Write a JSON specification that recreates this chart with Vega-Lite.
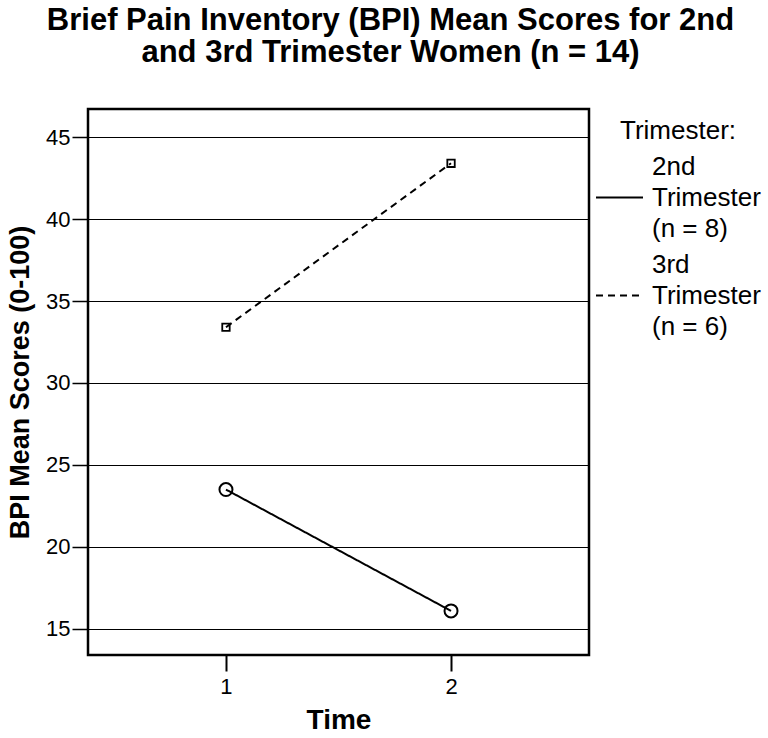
{
  "$schema": "https://vega.github.io/schema/vega-lite/v6.json",
  "autosize": "none",
  "width": 501,
  "height": 546,
  "padding": {"left": 88, "top": 109, "right": 179, "bottom": 83},
  "background": "white",
  "title": {
    "text": ["Brief Pain Inventory (BPI) Mean Scores for 2nd", "and 3rd Trimester Women (n = 14)"],
    "fontSize": 31,
    "fontWeight": "bold",
    "font": "Liberation Sans",
    "color": "black",
    "lineHeight": 32,
    "anchor": "middle",
    "frame": "group",
    "baseline": "bottom",
    "dx": 52,
    "offset": 9
  },
  "config": {
    "font": "Liberation Sans",
    "view": {"stroke": "black", "strokeWidth": 2.5},
    "axis": {
      "domain": false,
      "labelColor": "black",
      "titleColor": "black",
      "tickColor": "black",
      "labelFontSize": 22,
      "titleFontSize": 27,
      "titleFontWeight": "bold",
      "labelFont": "Liberation Sans",
      "titleFont": "Liberation Sans"
    }
  },
  "data": {
    "values": [
      {"time": 1, "score": 23.5, "tri": "2nd Trimester (n = 8)"},
      {"time": 2, "score": 16.1, "tri": "2nd Trimester (n = 8)"},
      {"time": 1, "score": 33.4, "tri": "3rd Trimester (n = 6)"},
      {"time": 2, "score": 43.4, "tri": "3rd Trimester (n = 6)"}
    ]
  },
  "encoding": {
    "x": {
      "field": "time",
      "type": "quantitative",
      "scale": {"domain": [0.387, 2.613], "nice": false, "zero": false},
      "axis": {
        "title": "Time",
        "titleFontSize": 28,
        "values": [1, 2],
        "format": "d",
        "grid": false,
        "tickSize": 16,
        "tickWidth": 2,
        "labelPadding": 5,
        "titlePadding": 9
      }
    },
    "y": {
      "field": "score",
      "type": "quantitative",
      "scale": {"domain": [13.41, 46.71], "nice": false, "zero": false},
      "axis": {
        "title": "BPI Mean Scores (0-100)",
        "values": [15, 20, 25, 30, 35, 40, 45],
        "grid": true,
        "gridColor": "black",
        "gridOpacity": 1,
        "gridWidth": 1.2,
        "tickSize": 16,
        "tickWidth": 1.5,
        "labelPadding": 2,
        "titlePadding": 11
      }
    }
  },
  "layer": [
    {
      "mark": {"type": "line", "color": "black", "strokeWidth": 2},
      "encoding": {
        "strokeDash": {
          "field": "tri",
          "type": "nominal",
          "scale": {"domain": ["2nd Trimester (n = 8)", "3rd Trimester (n = 6)"], "range": [[1, 0], [7, 5]]},
          "legend": {
            "title": "Trimester:",
            "orient": "none",
            "legendX": 507,
            "legendY": 9,
            "padding": 0,
            "titleAnchor": "middle",
            "titleFontSize": 26,
            "titleFontWeight": "normal",
            "titleColor": "black",
            "titleFont": "Liberation Sans",
            "titlePadding": 29,
            "labelFontSize": 26,
            "labelColor": "black",
            "labelFont": "Liberation Sans",
            "labelOffset": 8,
            "labelLimit": 300,
            "labelExpr": "datum.value == '2nd Trimester (n = 8)' ? ['2nd', 'Trimester', '(n = 8)'] : ['3rd', 'Trimester', '(n = 6)']",
            "symbolType": "stroke",
            "symbolSize": 2209,
            "symbolStrokeWidth": 2,
            "symbolStrokeColor": "black",
            "rowPadding": 9,
            "encode": {"labels": {"update": {"lineHeight": {"value": 31}, "dy": {"value": -31}}}}
          }
        }
      }
    },
    {
      "transform": [{"filter": "datum.tri == '2nd Trimester (n = 8)'"}],
      "mark": {"type": "point", "shape": "circle", "size": 169, "filled": false, "color": "black", "strokeWidth": 2, "opacity": 1},
      "encoding": {}
    },
    {
      "transform": [{"filter": "datum.tri == '3rd Trimester (n = 6)'"}],
      "mark": {"type": "point", "shape": "square", "size": 55, "filled": false, "color": "black", "strokeWidth": 1.8, "opacity": 1},
      "encoding": {}
    }
  ]
}
